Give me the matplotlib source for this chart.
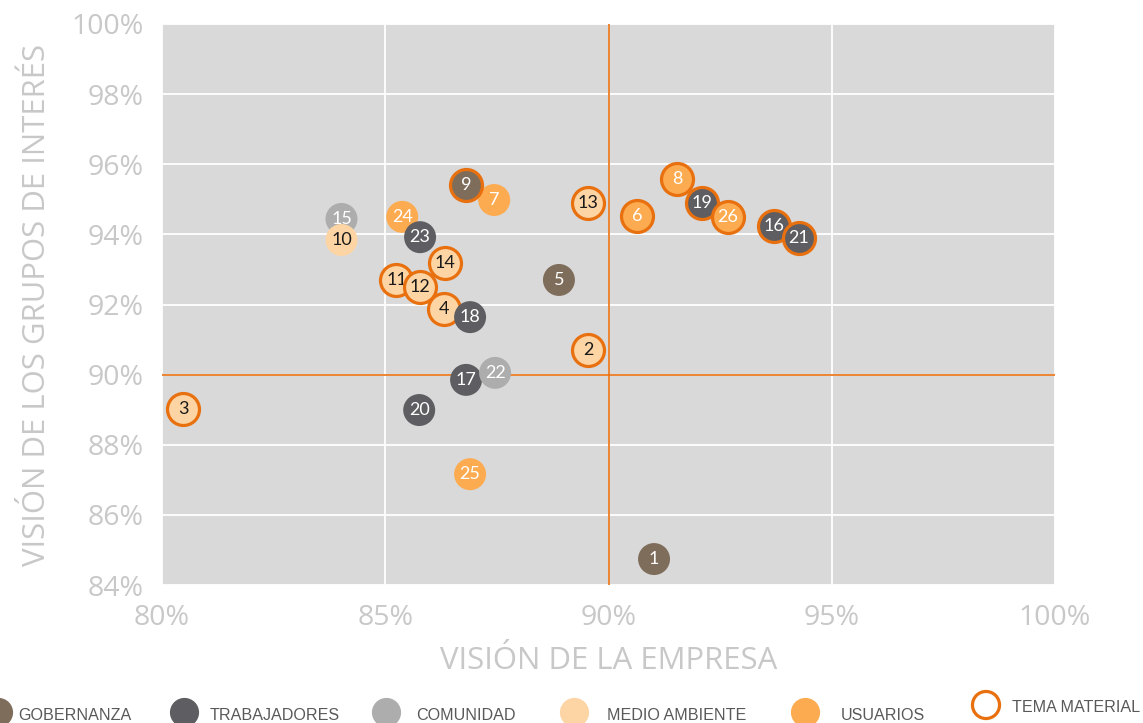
import matplotlib
matplotlib.use("Agg")
import matplotlib.pyplot as plt
from matplotlib.ticker import FuncFormatter, MultipleLocator

# topics, listed in drawing order (later ones sit on top)
ids = [1, 2, 3, 5, 6, 7, 9, 8, 19, 26, 11, 12, 4, 14, 18, 15, 10, 24, 23, 16, 21, 13, 17, 20, 22, 25]
empresa = [91.02, 89.54, 80.48, 88.89, 90.64, 87.44, 86.81, 91.53, 92.09, 92.67, 85.25, 85.78, 86.32,
           86.34, 86.90, 84.02, 84.02, 85.38, 85.78, 93.70, 94.26, 89.54, 86.81, 85.76, 87.46, 86.90]
grupos = [84.74, 90.70, 89.02, 92.70, 94.52, 94.98, 95.41, 95.58, 94.89, 94.50, 92.70, 92.50, 91.87,
          93.18, 91.64, 94.44, 93.84, 94.50, 93.92, 94.24, 93.90, 94.89, 89.85, 88.99, 90.05, 87.16]
grupo = ["GOB", "MA", "MA", "GOB", "USU", "USU", "GOB", "USU", "TRA", "USU", "MA", "MA", "MA",
         "MA", "TRA", "COM", "MA", "USU", "TRA", "TRA", "TRA", "MA", "TRA", "TRA", "COM", "USU"]
material = [False, True, True, False, True, False, True, True, True, True, True, True, True,
            True, False, False, False, False, False, True, True, True, False, False, False, False]

categorias = ["GOB", "TRA", "COM", "MA", "USU"]
nombres = ["GOBERNANZA", "TRABAJADORES", "COMUNIDAD", "MEDIO AMBIENTE", "USUARIOS"]
colores = {"GOB": "#7f6d5b", "TRA": "#5e5d61", "COM": "#adadad", "MA": "#fdd5a4", "USU": "#fdab50"}
texto = {"GOB": "white", "TRA": "white", "COM": "white", "MA": "#1a1a1a", "USU": "white"}
naranja = "#e8700f"
gris_txt = "#c8c8c8"

fig = plt.figure(figsize=(11.43, 7.23), dpi=100)
ax = fig.add_axes([162 / 1143, 1 - 585 / 723, 893 / 1143, 561 / 723])
ax.set_facecolor("#d9d9d9")
ax.set_xlim(80, 100)
ax.set_ylim(84, 100)
ax.xaxis.set_major_locator(MultipleLocator(5))
ax.yaxis.set_major_locator(MultipleLocator(2))
pct = FuncFormatter(lambda v, p: "%d%%" % round(v))
ax.xaxis.set_major_formatter(pct)
ax.yaxis.set_major_formatter(pct)
ax.grid(True, color="white", linewidth=1.3)
ax.set_axisbelow(True)
for s in ax.spines.values():
    s.set_visible(False)
ax.tick_params(length=0, labelsize=20.5, labelcolor=gris_txt)
ax.tick_params(axis="x", pad=14)
ax.tick_params(axis="y", pad=13)
for lab in ax.get_xticklabels() + ax.get_yticklabels():
    lab.set_family("Open Sans")

ax.axvline(90, color=naranja, linewidth=1.2, zorder=1.5)
ax.axhline(90, color=naranja, linewidth=1.2, zorder=1.5)

for i, (n, x, y, g, m) in enumerate(zip(ids, empresa, grupos, grupo, material)):
    z = 3 + 2 * i
    ax.scatter([x], [y], s=530, color=colores[g], edgecolors=naranja if m else "none",
               linewidths=2.3 if m else 0, zorder=z, clip_on=False)
    ax.text(x, y, str(n), ha="center", va="center", fontsize=13, color=texto[g],
            family="Lato", zorder=z + 1)

ax.set_xlabel("VISIÓN DE LA EMPRESA", fontsize=22.4, color=gris_txt, family="Open Sans", labelpad=10)
ax.set_ylabel("VISIÓN DE LOS GRUPOS DE INTERÉS", fontsize=22.4, color=gris_txt, family="Open Sans",
              labelpad=14)

# legend strip along the bottom (coordinates in figure pixels)
lg = fig.add_axes([0, 0, 1, 40 / 723])
lg.set_xlim(0, 1143)
lg.set_ylim(723, 683)
lg.axis("off")
mk_x = [-2, 184, 386, 574, 805]
tx_x = [18, 210, 416, 607, 841]
for c, nom, mx, tx in zip(categorias, nombres, mk_x, tx_x):
    lg.scatter([mx], [712], s=400, color=colores[c], clip_on=False)
    lg.text(tx, 715, nom, ha="left", va="center", fontsize=11.6, color="#595959", family="Liberation Sans")
lg.scatter([986], [705], s=380, facecolors="none", edgecolors=naranja, linewidths=2.3, clip_on=False)
lg.text(1012, 707, "TEMA MATERIAL", ha="left", va="center", fontsize=11.6, color="#595959",
        family="Liberation Sans")

fig.savefig("out.png", dpi=100)
